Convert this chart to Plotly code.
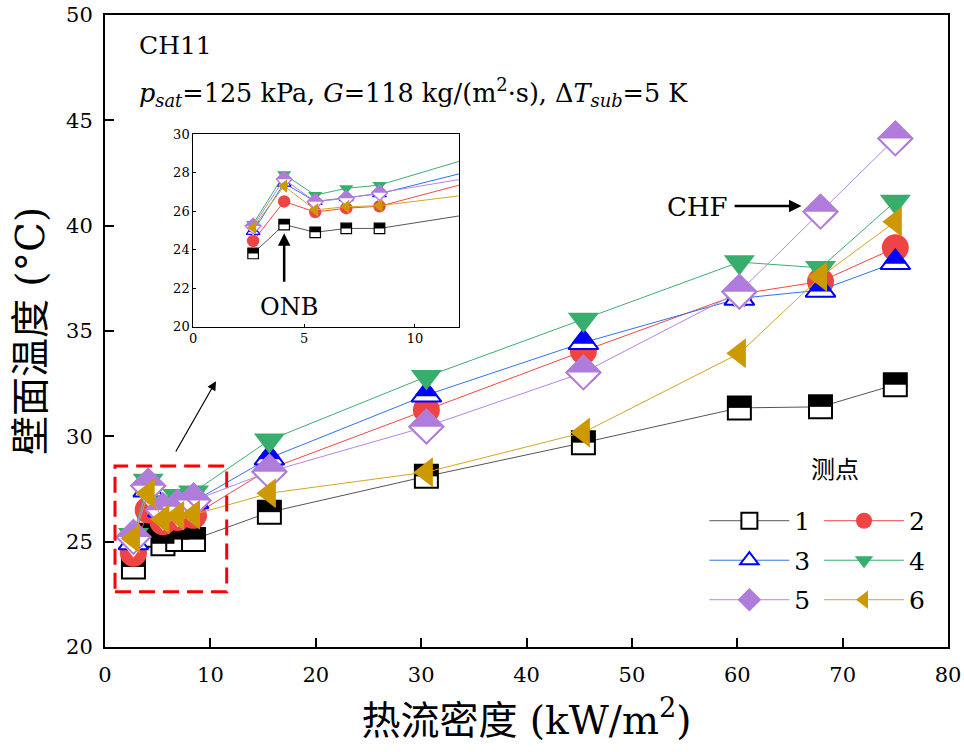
import plotly.graph_objects as go

# ---------------- data ----------------
heat_flux = [2.7, 4.1, 5.5, 6.9, 8.4, 15.6, 30.5, 45.4, 60.2, 67.9, 75.0]
t1 = [23.8, 25.3, 24.9, 25.1, 25.1, 26.4, 28.1, 29.7, 31.35, 31.4, 32.45]
t2 = [24.45, 26.5, 25.95, 26.15, 26.25, 28.45, 31.25, 34.05, 36.75, 37.35, 38.95]
t3 = [24.95, 27.45, 26.5, 26.7, 26.9, 28.97, 31.96, 34.45, 36.55, 36.94, 38.25]
t4 = [25.33, 27.9, 26.83, 27.18, 27.35, 29.82, 32.83, 35.55, 38.27, 38.0, 41.15]
t5 = [25.22, 27.65, 26.49, 26.66, 26.95, 28.32, 30.46, 33.03, 36.86, 40.66, 44.14]
t6 = [25.15, 27.3, 26.06, 26.23, 26.28, 27.3, 28.3, 30.18, 33.94, 37.57, 40.19]
series_names = ["1", "2", "3", "4", "5", "6"]
series_values = [t1, t2, t3, t4, t5, t6]

x_ticks = [0, 10, 20, 30, 40, 50, 60, 70, 80]
y_ticks = [20, 25, 30, 35, 40, 45, 50]
inset_x_ticks = [0, 5, 10]
inset_y_ticks = [20, 22, 24, 26, 28, 30]

# ---------------- styles ----------------
SERIF = "DejaVu Serif, Noto Sans CJK SC, serif"
marker_col = ["#000000", "#F04444", "#0000FF", "#38AE6C", "#B07CDC", "#CC9900"]
line_col = ["#555555", "#F04848", "#2F74E8", "#3DAE6E", "#B784E4", "#D4A520"]

fig = go.Figure()


def add_series(i, xa, ya, scale, showlegend):
    x = heat_flux
    y = series_values[i]
    name = series_names[i]
    grp = "g" + name
    legend = "legend" if i % 2 == 0 else "legend2"
    S = 26 * scale
    lw = 2 * scale if scale > 0.7 else 1.2
    common = dict(x=x, y=y, xaxis=xa, yaxis=ya, legendgroup=grp, legend=legend,
                  hoverinfo="skip")
    line = dict(color=line_col[i], width=1)
    if i == 0:  # half-filled square
        s = 23 * scale
        fig.add_trace(go.Scatter(mode="lines+markers", name=name, showlegend=showlegend,
                                 line=line,
                                 marker=dict(symbol="square", size=s, color="white",
                                             line=dict(color="black", width=lw)), **common))
        fig.add_trace(go.Scatter(mode="markers", showlegend=False,
                                 marker=dict(symbol="line-ew", size=s / 1.4, angle=180,
                                             standoff=s / 4, color="black",
                                             line=dict(color="black", width=s / 2)), **common))
    elif i == 1:  # filled circle
        fig.add_trace(go.Scatter(mode="lines+markers", name=name, showlegend=showlegend,
                                 line=line,
                                 marker=dict(symbol="circle", size=27 * scale, color=marker_col[i],
                                             line=dict(width=0)), **common))
    elif i == 2:  # half-filled up triangle
        f = 0.68
        fig.add_trace(go.Scatter(mode="lines+markers", name=name, showlegend=showlegend,
                                 line=line,
                                 marker=dict(symbol="triangle-up", size=S, color="white",
                                             line=dict(color=marker_col[i], width=lw)), **common))
        fig.add_trace(go.Scatter(mode="markers", showlegend=False,
                                 marker=dict(symbol="triangle-down", size=S * f, angle=180,
                                             standoff=(1 - f) * S / 2, color=marker_col[i],
                                             line=dict(color=marker_col[i], width=lw)), **common))
    elif i == 3:  # filled down triangle
        fig.add_trace(go.Scatter(mode="lines+markers", name=name, showlegend=showlegend,
                                 line=line,
                                 marker=dict(symbol="triangle-down", size=27 * scale,
                                             color=marker_col[i], line=dict(width=0)), **common))
    elif i == 4:  # half-filled diamond
        fig.add_trace(go.Scatter(mode="lines+markers", name=name, showlegend=showlegend,
                                 line=line,
                                 marker=dict(symbol="diamond", size=S, color=marker_col[i],
                                             line=dict(color=marker_col[i], width=lw)), **common))
        r = 1.05 * S
        fig.add_trace(go.Scatter(mode="markers", showlegend=False,
                                 marker=dict(symbol="triangle-down", size=r, angle=0,
                                             standoff=r / 4, color="white",
                                             line=dict(width=0)), **common))
        fig.add_trace(go.Scatter(mode="markers", showlegend=False,
                                 marker=dict(symbol="diamond-open", size=S, color=marker_col[i],
                                             line=dict(color=marker_col[i], width=lw)), **common))
    else:  # filled left triangle
        fig.add_trace(go.Scatter(mode="lines+markers", name=name, showlegend=showlegend,
                                 line=line,
                                 marker=dict(symbol="triangle-left", size=S, color=marker_col[i],
                                             line=dict(width=0)), **common))


for i in range(6):
    add_series(i, "x", "y", 1.0, True)
for i in range(6):
    add_series(i, "x2", "y2", 0.46, False)

axis_common = dict(showgrid=False, zeroline=False, showline=True, mirror=True,
                   linecolor="black", ticks="inside", color="black", automargin=False)

fig.update_layout(
    width=964, height=752, autosize=False,
    margin=dict(l=105, r=16, t=15, b=105, autoexpand=False),
    paper_bgcolor="white", plot_bgcolor="white",
    font=dict(family=SERIF, color="black"),
    xaxis=dict(range=[0, 80], tickvals=x_ticks, linewidth=2, tickwidth=2, ticklen=9,
               tickfont=dict(size=21), ticklabelstandoff=8,
               title=dict(text="热流密度 (kW/m<sup>2</sup>)", font=dict(size=39), standoff=20),
               **axis_common),
    yaxis=dict(range=[20, 50], tickvals=y_ticks, linewidth=2, tickwidth=2, ticklen=9,
               tickfont=dict(size=21), ticklabelstandoff=6,
               title=dict(text="壁面温度 (°C)", font=dict(size=39), standoff=9),
               **axis_common),
    xaxis2=dict(domain=[0.1047, 0.4203], anchor="y2", range=[0, 12], tickvals=inset_x_ticks,
                linewidth=1, tickwidth=1, ticklen=3, tickfont=dict(size=13), **axis_common),
    yaxis2=dict(domain=[0.5068, 0.8117], anchor="x2", range=[20, 30], tickvals=inset_y_ticks,
                linewidth=1, tickwidth=1, ticklen=3, tickfont=dict(size=13), **axis_common),
    legend=dict(x=0.711, y=0.2358, xanchor="left", yanchor="top", bgcolor="rgba(0,0,0,0)",
                font=dict(size=25), tracegroupgap=4, itemwidth=80),
    legend2=dict(x=0.847, y=0.2358, xanchor="left", yanchor="top", bgcolor="rgba(0,0,0,0)",
                 font=dict(size=25), tracegroupgap=4, itemwidth=80),
    showlegend=True,
)

# red dashed box around low heat-flux cluster
fig.add_shape(type="rect", xref="x", yref="y", x0=0.95, x1=11.55, y0=22.62, y1=28.59,
              line=dict(color="#FF0000", width=3, dash="16px,8px"), layer="above")

annotations = [
    dict(text="CH11", xref="paper", yref="paper", x=0.038, y=0.9525, xanchor="left",
         yanchor="middle", showarrow=False, font=dict(size=25)),
    dict(text="<i>p</i><sub><i>sat</i></sub>=125 kPa, <i>G</i>=118 kg/(m<sup>2</sup>·s), "
              "Δ<i>T</i><sub><i>sub</i></sub>=5 K",
         xref="paper", yref="paper", x=0.038, y=0.8766, xanchor="left", yanchor="middle",
         showarrow=False, font=dict(size=25.5)),
    dict(text="CHF", xref="x", yref="y", x=56.2, y=40.9, xanchor="center", yanchor="middle",
         showarrow=False, font=dict(size=26)),
    dict(text="", xref="x", yref="y", axref="x", ayref="y", x=66.1, y=40.93, ax=59.6, ay=40.93,
         showarrow=True, arrowhead=2, arrowsize=1, arrowwidth=2.5, arrowcolor="black"),
    dict(text="", xref="x", yref="y", axref="x", ayref="y", x=10.53, y=32.62, ax=6.64, ay=29.21,
         showarrow=True, arrowhead=2, arrowsize=1.5, arrowwidth=1.2, arrowcolor="black"),
    dict(text="ONB", xref="x2", yref="y2", x=4.32, y=21.04, xanchor="center", yanchor="middle",
         showarrow=False, font=dict(size=24)),
    dict(text="", xref="x2", yref="y2", axref="x2", ayref="y2", x=4.1, y=24.85, ax=4.1, ay=22.25,
         showarrow=True, arrowhead=2, arrowsize=1, arrowwidth=2.5, arrowcolor="black"),
    dict(text="测点", xref="paper", yref="paper", x=(835 - 105) / 843, y=(647 - 470) / 632,
         xanchor="center", yanchor="middle", showarrow=False, font=dict(size=24)),
]
fig.update_layout(annotations=annotations)

fig.write_html("out.html")
